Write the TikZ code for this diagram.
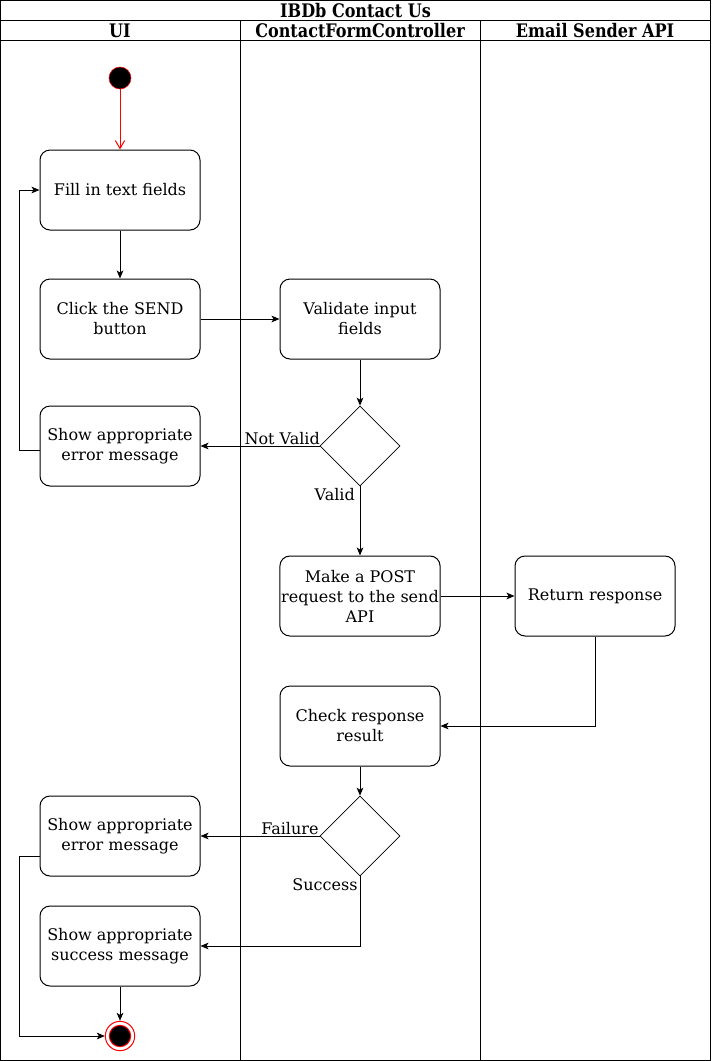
\documentclass[tikz,border=0pt]{standalone}
\usepackage{fontspec}
\setmainfont{DejaVu Serif}
\newfontfamily\headfont{DejaVu Serif}[FakeStretch=0.86]
\usetikzlibrary{arrows.meta, positioning, shapes.geometric}

\begin{document}
\begin{tikzpicture}[x=0.75pt, y=-0.75pt,
  act/.style={draw, line width=0.75pt, rounded corners=7.5pt, minimum width=120pt, minimum height=60pt,
    inner sep=1pt, align=center, font=\fontsize{12}{15}\selectfont},
  decide/.style={draw, diamond, line width=0.5pt, minimum width=60pt, minimum height=60pt, inner sep=0pt},
  head/.style={font=\headfont\fontsize{14}{16}\selectfont\bfseries},
  lbl/.style={font=\fontsize{12}{15}\selectfont, inner sep=0.5pt},
  arr/.style={-{Stealth[length=6pt, width=5pt, inset=1.5pt]}, line width=0.75pt}]
  \useasboundingbox (0,0) rectangle (711,1061);

  % lanes
  \draw[line width=0.75pt] (0.5,0.5) rectangle (710.5,1060.5);
  \draw[line width=0.75pt] (0.5,20) -- (710.5,20) (0.5,40) -- (710.5,40);
  \draw[line width=0.75pt] (240,20) -- (240,1060.5) (480,20) -- (480,1060.5);
  \node[head] (title) at (355.5,10.5) {IBDb Contact Us};
  \node[head] (laneui) at (120,30.5) {UI};
  \node[head] (lanectrl) at (360,30.5) {ContactFormController};
  \node[head] (laneapi) at (595,30.5) {Email Sender API};

  % start / end
  \node[circle, draw=red, fill=black, minimum size=16.5pt, inner sep=0pt] (start) at (120,78) {};
  \node[circle, draw=red, line width=0.75pt, minimum size=22pt, inner sep=0pt,
    path picture={\fill[black, draw=red] (path picture bounding box.center) circle (8pt);}] (stop) at (120,1036) {};

  % activities
  \node[act] (fill) at (120,190) {Fill in text fields};
  \node[act] (send) at (120,319) {Click the SEND\\button};
  \node[act] (validate) at (360,319) {Validate input\\fields};
  \node[act] (err1) at (120,446) {Show appropriate\\error message};
  \node[decide] (valid) at (360,446) {};
  \node[act] (post) at (360,596) {Make a POST\\request to the send\\API};
  \node[act] (resp) at (595,596) {Return response};
  \node[act] (check) at (360,726) {Check response\\result};
  \node[decide] (ok) at (360,836) {};
  \node[act] (err2) at (120,836) {Show appropriate\\error message};
  \node[act] (succ) at (120,946) {Show appropriate\\success message};

  % flows
  \draw[red, line width=0.75pt, -{Straight Barb[length=6pt, width=7pt]}] (start) -- (fill);
  \draw[arr] (fill) -- (send);
  \draw[arr] (send) -- (validate);
  \draw[arr] (validate) -- (valid);
  \draw[arr] (valid.west) -- node[lbl, pos=0, anchor=south east, xshift=1pt] {Not Valid} (err1.east);
  \draw[arr] ([yshift=-3pt]err1.west) -- ++(-20,0) |- (fill.west);
  \draw[arr] (valid.south) -- node[lbl, pos=0, anchor=north east, xshift=-3pt, yshift=-1pt] {Valid} (post.north);
  \draw[arr] (post) -- (resp);
  \draw[arr] (resp.south) |- (check.east);
  \draw[arr] (check) -- (ok);
  \draw[arr] (ok.west) -- node[lbl, pos=0, anchor=south east] {Failure} (err2.east);
  \draw[arr] (ok.south) |- node[lbl, pos=0, anchor=north east, xshift=-1pt, yshift=-1pt] {Success} (succ.east);
  \draw[arr] (succ) -- (stop);
  \draw[arr] ([yshift=-15pt]err2.west) -- ++(-20,0) |- (stop.west);
\end{tikzpicture}
\end{document}
